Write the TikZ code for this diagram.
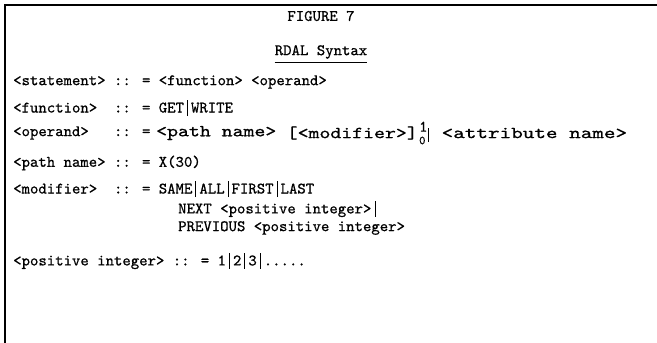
\documentclass[tikz,border=0pt]{standalone}
\usepackage{graphicx}
\usepackage{fontspec}
% typewriter face, slightly thickened to look like a ribbon impression
\newfontfamily\tw{lmmono10-regular.otf}[FakeBold=0.7]
% a tall vertical stroke used as the alternative separator
\newcommand\vb{\makebox[7pt]{\rule[-3.5pt]{0.8pt}{16pt}}}
% wider letter pitch used on the operand rule
\newcommand\pica[2][1.3]{\scalebox{#1}[1.05]{#2}}
\tikzset{
  rule line/.style={line width=1.5pt, black},
  syntax/.style={anchor=west, inner sep=0pt, font=\tw\fontsize{16}{18}\selectfont},
  heading/.style={anchor=center, inner sep=0pt, font=\tw\fontsize{16}{18}\selectfont},
}
\begin{document}
\begin{tikzpicture}[x=1pt,y=-1pt]
\useasboundingbox (0,0) rectangle (657,343);
% frame: top and left edges
\coordinate (tl) at (5,5);
\coordinate (tr) at (657,5);
\coordinate (bl) at (5,343);
\draw[rule line] (tr) -- (tl) -- (bl);
% headings
\node[heading] (fig) at (321,16) {FIGURE 7};
\node[heading] (title) at (321,52) {RDAL Syntax};
\draw[line width=0.8pt] ([yshift=-3pt]title.south west) -- ([yshift=-3pt]title.south east);
% grammar rules
\node[syntax] (r1) at (13,82) {<statement> :: = <function> <operand>};
\node[syntax] (r2) at (13,108) {<function>~~:: = GET\vb WRITE};
\node[syntax] (r3) at (13,133) {<operand>~~~:: =};
\node[syntax] (r3a) at (156,133) {\pica{<path name>}};
\node[syntax] (r3b) at ([xshift=10pt]r3a.east) {\pica{[<modifier>]}};
\node[syntax] (r3c) at (r3b.east) {\kern1pt\rlap{\raisebox{7pt}{1}}\raisebox{-5.5pt}{\fontsize{12}{12}\selectfont 0}\kern3pt\rule[-3.5pt]{0.8pt}{14pt}};
\node[syntax] (r3d) at ([xshift=12pt]r3c.east) {\pica[1.38]{<attribute name>}};
\node[syntax] (r4) at (13,163) {<path name> :: = X(30)};
\node[syntax] (r5) at (13,189) {<modifier>~~:: = SAME\vb ALL\vb FIRST\vb LAST};
\node[syntax] (r6) at (178,209) {NEXT <positive integer>\vb};
\node[syntax] (r7) at (178,228) {PREVIOUS <positive integer>};
\node[syntax] (r8) at (13,261) {<positive integer> :: = 1\vb 2\vb 3\vb .....};
\end{tikzpicture}
\end{document}
